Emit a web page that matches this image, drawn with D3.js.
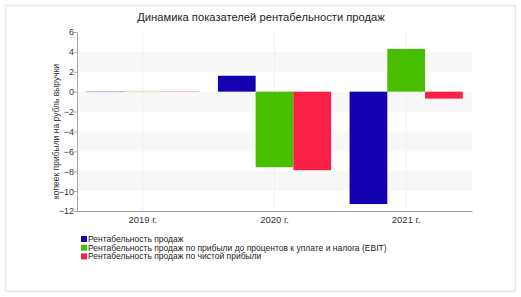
<!DOCTYPE html>
<html><head><meta charset="utf-8">
<script src="https://cdn.jsdelivr.net/npm/d3@7"></script>
<style>body{margin:0;background:#fff;}svg{display:block;font-family:"Liberation Sans",Arial,sans-serif;}</style>
</head><body><svg id="c" width="521" height="297"></svg>
<script>
const categories = ["2019 г.", "2020 г.", "2021 г."];
const seriesNames = ["Рентабельность продаж", "Рентабельность продаж по прибыли до процентов к уплате и налога (EBIT)", "Рентабельность продаж по чистой прибыли"];
const salesMargin = [0, 1.6, -11.3];
const ebitMargin = [0, -7.6, 4.3];
const netMargin = [0, -7.9, -0.7];
const yTicks = [6, 4, 2, 0, -2, -4, -6, -8, -10, -12];
const colors = ["#1400b0", "#48be00", "#fa2046"];
const series = [salesMargin, ebitMargin, netMargin];
const FF = "'Liberation Sans',Arial,sans-serif";

const svg = d3.select("#c");
// frame
svg.append("rect").attr("x",5.5).attr("y",5.5).attr("width",510).attr("height",286).attr("rx",2)
  .attr("fill","#fff").attr("stroke","#e8e8e8").attr("stroke-width",1.5);

const L=77, R=472, T=32, B=211;
const y = d3.scaleLinear().domain([-12,6]).range([B,T]);
const x0 = d3.scaleBand().domain(categories).range([L,R]).padding(0);
const x1 = d3.scaleBand().domain([0,1,2]).range([0,x0.bandwidth()]).paddingInner(0).paddingOuter(0.245);

// shaded bands
const bands = [[4,2],[0,-2],[-4,-6],[-8,-10]];
svg.append("g").selectAll("rect").data(bands).join("rect")
  .attr("x",L).attr("width",R-L).attr("y",d=>y(d[0])).attr("height",d=>y(d[1])-y(d[0]))
  .attr("fill","#f8f8f8");
// vertical faint grid at category centers
svg.append("g").selectAll("line").data(categories).join("line")
  .attr("x1",d=>x0(d)+x0.bandwidth()/2).attr("x2",d=>x0(d)+x0.bandwidth()/2)
  .attr("y1",T).attr("y2",B).attr("stroke","#f2f2f2");

// title
svg.append("text").attr("x",261).attr("y",21).attr("text-anchor","middle")
  .attr("font-size",11.2).attr("fill","#222").text("Динамика показателей рентабельности продаж");

// bars
const g = svg.append("g");
categories.forEach((c,i)=>{
  series.forEach((s,j)=>{
    const v = s[i];
    const x = x0(c)+x1(j);
    if (v===0) {
      g.append("rect").attr("x",x).attr("width",x1.bandwidth()).attr("y",y(0)-0.5).attr("height",1)
        .attr("fill",colors[j]).attr("opacity",0.3);
    } else {
      g.append("rect").attr("x",x).attr("width",x1.bandwidth())
        .attr("y",y(Math.max(0,v))).attr("height",Math.abs(y(v)-y(0)))
        .attr("fill",colors[j]);
    }
  });
});

// y axis
const ya = svg.append("g").attr("transform",`translate(${L},0)`)
  .call(d3.axisLeft(y).tickValues(yTicks).tickSize(3).tickFormat(d3.format("d")));
ya.select(".domain").attr("stroke","#aaa");
ya.selectAll(".tick line").attr("stroke","#aaa");
ya.selectAll("text").attr("font-size",9).attr("fill","#333").attr("font-family",FF).attr("x",-3);

// x axis
const xa = svg.append("g").attr("transform",`translate(0,${B})`)
  .call(d3.axisBottom(x0).tickSize(0).tickPadding(5));
xa.select(".domain").attr("stroke","#999");
xa.selectAll("text").attr("font-size",9.5).attr("fill","#333").attr("font-family",FF);

// y label
svg.append("text").attr("transform",`translate(59,${(T+B)/2+10}) rotate(-90)`)
  .attr("text-anchor","middle").attr("font-size",8.5).attr("fill","#333")
  .text("копеек прибыли на рубль выручки");

// legend
const lg = svg.append("g");
seriesNames.forEach((n,j)=>{
  const yy = 239 + j*8.7;
  lg.append("rect").attr("x",81).attr("y",yy-3).attr("width",6).attr("height",6).attr("fill",colors[j]);
  lg.append("text").attr("x",88).attr("y",yy+3).attr("font-size",8.5).attr("fill","#222").text(n);
});
</script></body></html>
